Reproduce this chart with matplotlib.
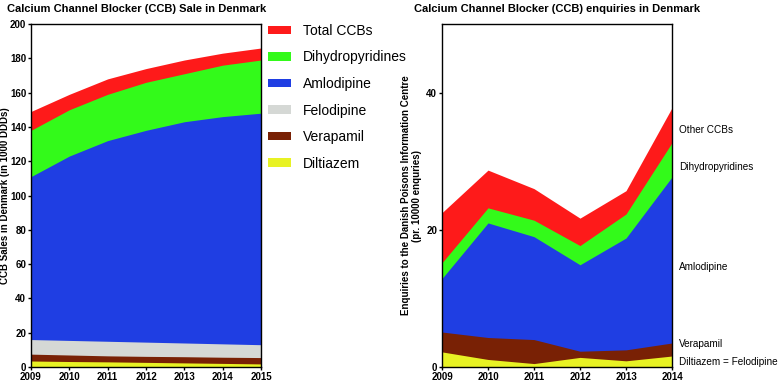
import matplotlib
matplotlib.use('Agg')
import matplotlib.pyplot as plt

plt.rcParams['font.family'] = ['Liberation Sans', 'DejaVu Sans']

# left chart: sales (1000 DDDs), overlapping areas
sale_years = [2009, 2010, 2011, 2012, 2013, 2014, 2015]
sale_total = [149, 159, 168, 174, 179, 183, 186]
sale_dihydro = [138, 150, 159, 166, 171, 176, 179]
sale_amlo = [111, 123, 132, 138, 143, 146, 148]
sale_felo = [16, 15.5, 15, 14.5, 14, 13.5, 13]
sale_vera = [7.5, 7, 6.5, 6.2, 6, 5.7, 5.5]
sale_dilt = [3.5, 3.2, 3, 2.7, 2.4, 2.1, 1.8]

# right chart: enquiries (pr. 10000 enquiries)
enq_years = [2009, 2010, 2011, 2012, 2013, 2014]
enq_other = [22.5, 28.7, 26.0, 21.7, 25.7, 37.8]
enq_dihydro = [15.2, 23.2, 21.4, 17.7, 22.3, 32.7]
enq_amlo = [12.9, 21.0, 19.0, 14.9, 18.8, 27.7]
enq_vera = [5.1, 4.3, 4.0, 2.3, 2.5, 3.5]
enq_dilt = [2.2, 1.1, 0.5, 1.4, 0.9, 1.6]

c_red = '#fe1a1a'
c_green = '#33fa1a'
c_blue = '#1f3ee3'
c_grey = '#d5d8d5'
c_brown = '#792105'
c_yellow = '#e8f224'

fig = plt.figure(figsize=(7.78, 3.83), dpi=100)
ax1 = fig.add_axes([31/778, 16/383, 230/778, 343/383])
ax2 = fig.add_axes([442/778, 16/383, 230/778, 343/383])

series = [
    ('Total CCBs', sale_total, c_red),
    ('Dihydropyridines', sale_dihydro, c_green),
    ('Amlodipine', sale_amlo, c_blue),
    ('Felodipine', sale_felo, c_grey),
    ('Verapamil', sale_vera, c_brown),
    ('Diltiazem', sale_dilt, c_yellow),
]
for name, vals, col in series:
    ax1.fill_between(sale_years, 0, vals, color=col, lw=0, label=name)

ax1.set_xlim(2009, 2015)
ax1.set_ylim(0, 200)
ax1.set_yticks(range(0, 201, 20))
ax1.set_xticks(sale_years)
ax1.set_title('Calcium Channel Blocker (CCB) Sale in Denmark', fontsize=8,
              fontweight='bold', pad=9, x=0.46)
ax1.set_ylabel('CCB Sales in Denmark (in 1000 DDDs)', fontsize=7,
               fontweight='bold')
ax1.yaxis.set_label_coords(-0.092, 0.5)
leg = ax1.legend(loc='upper left', bbox_to_anchor=(1.03, 1.0), frameon=False,
                 fontsize=10, handlelength=1.65, handleheight=0.55,
                 labelspacing=0.9, handletextpad=0.85, borderaxespad=0,
                 borderpad=0)

series2 = [
    (enq_other, c_red),
    (enq_dihydro, c_green),
    (enq_amlo, c_blue),
    (enq_vera, c_brown),
    (enq_dilt, c_yellow),
]
for vals, col in series2:
    ax2.fill_between(enq_years, 0, vals, color=col, lw=0)

ax2.set_xlim(2009, 2014)
ax2.set_ylim(0, 50)
ax2.set_yticks([0, 20, 40])
ax2.set_xticks(enq_years)
ax2.set_title('Calcium Channel Blocker (CCB) enquiries in Denmark', fontsize=8,
              fontweight='bold', pad=9)
ax2.set_ylabel('Enquiries to the Danish Poisons Information Centre\n(pr. 10000 enquries)',
               fontsize=7, fontweight='bold', linespacing=1.15)
ax2.yaxis.set_label_coords(-0.088, 0.5)

labels2 = [('Other CCBs', 34.5), ('Dihydropyridines', 29.2),
           ('Amlodipine', 14.6), ('Verapamil', 3.3), ('Diltiazem = Felodipine', 0.7)]
for txt, yv in labels2:
    ax2.text(1.03, yv / 50, txt, transform=ax2.transAxes, fontsize=7.2,
             va='center', ha='left')

for ax in (ax1, ax2):
    for sp in ax.spines.values():
        sp.set_linewidth(1.0)
    ax.tick_params(axis='both', labelsize=7, width=1, length=2.5, pad=1)
    for lab in ax.get_xticklabels() + ax.get_yticklabels():
        lab.set_fontweight('bold')

fig.savefig('out.png', dpi=100)
